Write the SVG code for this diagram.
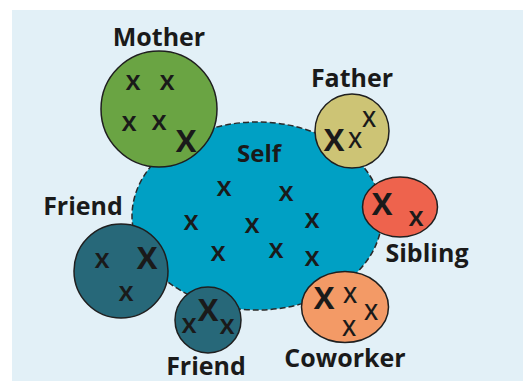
<svg xmlns="http://www.w3.org/2000/svg" width="523" height="381" viewBox="0 0 523 381">
<style>
text{font-family:"Open Sans","Liberation Sans",sans-serif;font-weight:bold;fill:#1a1a1a;text-anchor:middle}
.lbl{font-size:25px}
.x{font-size:22px}
.xb{font-size:31px}
.node{stroke:#1f1f1f;stroke-width:1.5}
</style>
<rect x="0" y="0" width="523" height="381" fill="#ffffff"/>
<rect x="12" y="10" width="511" height="371" fill="#e2f0f7"/>
<g id="self">
<ellipse cx="257" cy="216" rx="125" ry="94" fill="#00a0c4" stroke="#2a2a2a" stroke-width="1.5" stroke-dasharray="6 3"/>
<text x="259" y="162" style="font-size:24px">Self</text>
<text class="x" x="224" y="196">X</text>
<text class="x" x="286" y="201">X</text>
<text class="x" x="191" y="230">X</text>
<text class="x" x="252" y="233">X</text>
<text class="x" x="312" y="228">X</text>
<text class="x" x="218" y="261">X</text>
<text class="x" x="276" y="258">X</text>
<text class="x" x="312" y="266">X</text>
</g>
<g id="mother">
<circle class="node" cx="159" cy="109" r="58" fill="#6aa443"/>
<text class="lbl" x="159" y="46">Mother</text>
<text class="x" x="133" y="90">X</text>
<text class="x" x="167" y="90">X</text>
<text class="x" x="129" y="131">X</text>
<text class="x" x="159" y="130">X</text>
<text class="xb" x="186" y="152">X</text>
</g>
<g id="father">
<circle class="node" cx="352" cy="131" r="37" fill="#cdc475"/>
<text class="lbl" x="352" y="87">Father</text>
<text class="xb" x="334" y="151">X</text>
<text class="x" x="355" y="148" style="font-weight:600">X</text>
<text class="x" x="369" y="127" style="font-weight:600">X</text>
</g>
<g id="sibling">
<ellipse class="node" cx="400" cy="207" rx="37.5" ry="30" fill="#ee634d"/>
<text class="lbl" x="427" y="262">Sibling</text>
<text class="xb" x="382" y="215">X</text>
<text class="x" x="416" y="226">X</text>
</g>
<g id="coworker">
<ellipse class="node" cx="345" cy="307" rx="43.5" ry="35.5" fill="#f39a66"/>
<text class="lbl" x="345" y="367">Coworker</text>
<text class="xb" x="324" y="309">X</text>
<text class="x" x="350" y="303" style="font-weight:600">X</text>
<text class="x" x="371" y="320" style="font-weight:600">X</text>
<text class="x" x="349" y="336" style="font-weight:600">X</text>
</g>
<g id="friend-left">
<circle class="node" cx="121" cy="271" r="47" fill="#276879"/>
<text class="lbl" x="83" y="215">Friend</text>
<text class="x" x="102" y="268">X</text>
<text class="xb" x="147" y="269">X</text>
<text class="x" x="126" y="301">X</text>
</g>
<g id="friend-bottom">
<circle class="node" cx="208" cy="320" r="33" fill="#276879"/>
<text class="lbl" x="206" y="375">Friend</text>
<text class="x" x="189" y="333">X</text>
<text class="xb" x="208" y="321">X</text>
<text class="x" x="227" y="334">X</text>
</g>
<g id="connectors"></g>
</svg>
